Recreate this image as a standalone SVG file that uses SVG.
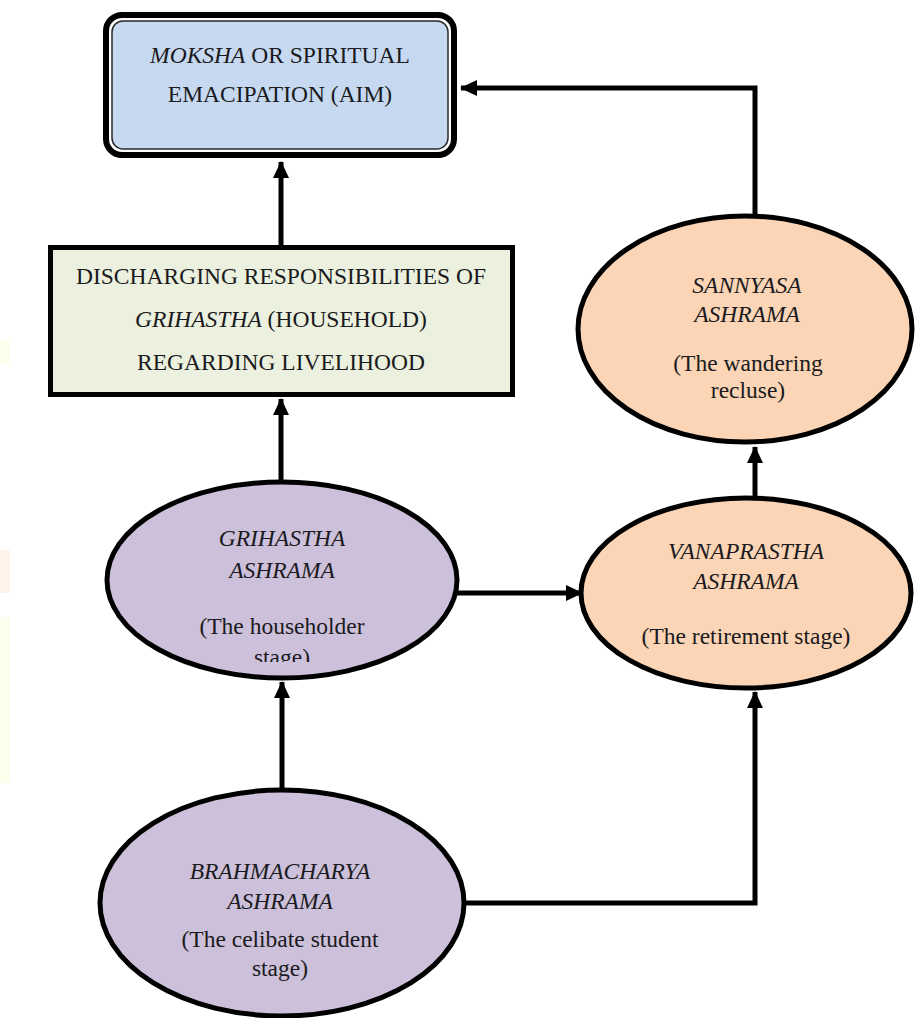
<svg xmlns="http://www.w3.org/2000/svg" width="921" height="1018" viewBox="0 0 921 1018">
<defs>
<style>
text{font-family:'Liberation Serif','Times New Roman','DejaVu Serif',serif;font-size:23.5px;fill:#1a1a20;text-anchor:middle}
.i{font-style:italic}
.ell{stroke:#000;stroke-width:5}
.con{fill:none;stroke:#000;stroke-width:5}
</style>
<marker id="ah" markerUnits="userSpaceOnUse" markerWidth="18" markerHeight="18" viewBox="0 0 18 18" refX="16" refY="9" orient="auto">
<path d="M0,1 L17,9 L0,17 Z" fill="#000"/>
</marker>
<clipPath id="gclip"><rect x="100" y="480" width="370" height="182"/></clipPath>
</defs>
<rect width="921" height="1018" fill="#fff"/>
<g id="watermark" opacity="0.6">
<rect x="0" y="340" width="10" height="24" fill="#fdfde0"/>
<rect x="0" y="550" width="10" height="43" fill="#ffeede"/>
<rect x="0" y="617" width="10" height="166" fill="#fbfde0"/>
</g>
<g id="connectors">
<path class="con" d="M281,245 V162" marker-end="url(#ah)"/>
<path class="con" d="M755,215 V88 H461" marker-end="url(#ah)"/>
<path class="con" d="M281,482 V399" marker-end="url(#ah)"/>
<path class="con" d="M457,593 H582" marker-end="url(#ah)"/>
<path class="con" d="M755,498 V447" marker-end="url(#ah)"/>
<path class="con" d="M282,790 V682" marker-end="url(#ah)"/>
<path class="con" d="M465,903 H755 V692" marker-end="url(#ah)"/>
</g>
<g id="moksha">
<rect x="106" y="15" width="348" height="140" rx="16" fill="#fff" stroke="#000" stroke-width="6"/>
<rect x="112" y="21" width="336" height="128" rx="11" fill="#c6d9f1" stroke="#2a2a2a" stroke-width="1.5"/>
<text x="280" y="63"><tspan class="i">MOKSHA</tspan> OR SPIRITUAL</text>
<text x="280" y="102">EMACIPATION (AIM)</text>
</g>
<g id="discharging">
<rect x="50.5" y="247.5" width="462" height="147" fill="#ebf1de" stroke="#000" stroke-width="5"/>
<text x="281" y="284">DISCHARGING RESPONSIBILITIES OF</text>
<text x="281" y="327"><tspan class="i">GRIHASTHA</tspan> (HOUSEHOLD)</text>
<text x="281" y="370">REGARDING LIVELIHOOD</text>
</g>
<g id="sannyasa">
<ellipse class="ell" cx="745" cy="329" rx="167" ry="113" fill="#fbd5b5"/>
<text class="i" x="747" y="293">SANNYASA</text>
<text class="i" x="747" y="322">ASHRAMA</text>
<text x="748" y="371">(The wandering</text>
<text x="748" y="398">recluse)</text>
</g>
<g id="grihastha">
<ellipse class="ell" cx="282" cy="580" rx="175" ry="98" fill="#ccc0da"/>
<g clip-path="url(#gclip)">
<text class="i" x="282" y="546">GRIHASTHA</text>
<text class="i" x="282" y="578">ASHRAMA</text>
<text x="282" y="634">(The householder</text>
<text x="282" y="665">stage)</text>
</g>
</g>
<g id="vanaprastha">
<ellipse class="ell" cx="746" cy="593" rx="165" ry="95" fill="#fbd5b5"/>
<text class="i" x="746" y="559">VANAPRASTHA</text>
<text class="i" x="746" y="589">ASHRAMA</text>
<text x="746" y="644">(The retirement stage)</text>
</g>
<g id="brahmacharya">
<ellipse class="ell" cx="282" cy="903" rx="182" ry="113" fill="#ccc0da"/>
<text class="i" x="280" y="879">BRAHMACHARYA</text>
<text class="i" x="280" y="909">ASHRAMA</text>
<text x="280" y="947">(The celibate student</text>
<text x="280" y="976">stage)</text>
</g>
</svg>
